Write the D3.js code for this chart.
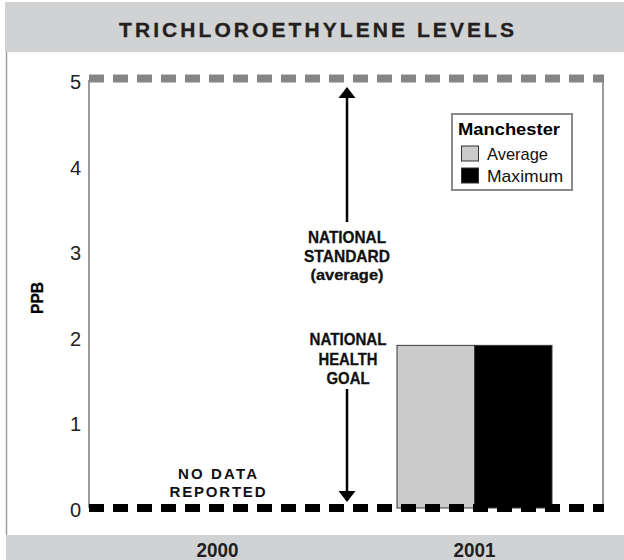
<!DOCTYPE html>
<html>
<head>
<meta charset="utf-8">
<script src="https://cdn.jsdelivr.net/npm/d3@7"></script>
<style>
  html, body { margin: 0; padding: 0; background: #fff; }
  svg { display: block; font-family: "Liberation Sans", Arial, sans-serif; }
</style>
</head>
<body>
<svg id="chart" width="624" height="560"></svg>
<script>
// Trichloroethylene levels, parts per billion
const years = ["2000", "2001"];
const seriesNames = ["Average", "Maximum"];
const averageValues = [null, 1.9];
const maximumValues = [null, 1.9];
const yTicks = [0, 1, 2, 3, 4, 5];
const nationalStandard = 5;   // MCL
const nationalGoal = 0;       // MCLG
const seriesColors = ["#cbcbcb", "#000000"];

const svg = d3.select("#chart");
const W = 624, H = 560;
const plot = { left: 89, right: 603, top: 80, bottom: 508 };

// header and footer bands
svg.append("rect").attr("x", 5).attr("y", 2).attr("width", W - 5).attr("height", 50).attr("fill", "#d1d2d4");
svg.append("rect").attr("x", 6).attr("y", 535).attr("width", W - 6).attr("height", 25).attr("fill", "#d1d2d4");
svg.append("line").attr("x1", 6.5).attr("x2", 6.5).attr("y1", 52).attr("y2", 535)
  .attr("stroke", "#a0a0a0").attr("stroke-width", 1.5);

svg.append("text").attr("x", 119).attr("y", 36.5)
  .attr("font-size", 21).attr("font-weight", "bold")
  .attr("textLength", 395).attr("lengthAdjust", "spacing").attr("fill", "#231f20")
  .attr("stroke", "#231f20").attr("stroke-width", 0.3)
  .text("TRICHLOROETHYLENE LEVELS");

const x = d3.scaleBand().domain(years).range([plot.left, plot.right]).padding(0);
const xs = d3.scaleBand().domain(seriesNames).range([0, x.bandwidth()]).paddingInner(0).paddingOuter(0.658);
const y = d3.scaleLinear().domain([0, 5]).range([plot.bottom, plot.top]);

// y axis (labels only) via d3.axisLeft
const yAxis = svg.append("g").attr("transform", `translate(${plot.left - 8},0)`)
  .call(d3.axisLeft(y).tickValues(yTicks).tickSize(0).tickPadding(0).tickFormat(d3.format("d")));
yAxis.select(".domain").remove();
yAxis.selectAll("text").attr("font-size", 20).attr("fill", "#222")
  .attr("font-family", "Liberation Sans, Arial, sans-serif").attr("dy", "0.42em");

// frame lines
svg.append("line").attr("x1", plot.left).attr("x2", plot.left).attr("y1", y(5)).attr("y2", y(0))
  .attr("stroke", "#9a9a9a").attr("stroke-width", 2);
svg.append("line").attr("x1", plot.right).attr("x2", plot.right).attr("y1", y(5)).attr("y2", y(0))
  .attr("stroke", "#9a9a9a").attr("stroke-width", 2);

// bars
const rows = years.map((yr, i) => ({ year: yr, values: [averageValues[i], maximumValues[i]] }));
rows.forEach(r => {
  r.values.forEach((v, j) => {
    if (v == null) return;
    svg.append("rect")
      .attr("x", x(r.year) + xs(seriesNames[j]))
      .attr("y", y(v))
      .attr("width", xs.bandwidth())
      .attr("height", y(0) - y(v))
      .attr("fill", seriesColors[j])
      .attr("stroke", "#3a3a3a").attr("stroke-width", 1);
  });
});

// reference lines: national standard (grey dashes) and health goal (black dashes)
svg.append("line").attr("x1", plot.left).attr("x2", plot.right + 1)
  .attr("y1", y(nationalStandard) - 1.5).attr("y2", y(nationalStandard) - 1.5)
  .attr("stroke", "#858585").attr("stroke-width", 8).attr("stroke-dasharray", "15 9");
svg.append("line").attr("x1", plot.left).attr("x2", plot.right + 1)
  .attr("y1", y(nationalGoal)).attr("y2", y(nationalGoal))
  .attr("stroke", "#000").attr("stroke-width", 8).attr("stroke-dasharray", "15 9");

// arrows
const ax = 347;
function arrowHead(tipY, dir) {
  const h = 11, w = 8.5;
  svg.append("path")
    .attr("d", `M${ax},${tipY} L${ax - w},${tipY + dir * h} L${ax + w},${tipY + dir * h} Z`)
    .attr("fill", "#000");
}
const topTip = y(nationalStandard) + 7;
svg.append("line").attr("x1", ax).attr("x2", ax).attr("y1", topTip + 8).attr("y2", 222)
  .attr("stroke", "#000").attr("stroke-width", 2.5);
arrowHead(topTip, 1);
const botTip = y(nationalGoal) - 6;
svg.append("line").attr("x1", ax).attr("x2", ax).attr("y1", 389).attr("y2", botTip - 8)
  .attr("stroke", "#000").attr("stroke-width", 2.5);
arrowHead(botTip, -1);

// condensed bold label: fixed width per line
function label(t, cx, base, size, width) {
  svg.append("text").attr("x", cx - width / 2).attr("y", base)
    .attr("font-size", size).attr("font-weight", "bold")
    .attr("textLength", width).attr("lengthAdjust", "spacingAndGlyphs")
    .attr("fill", "#111").attr("stroke", "#111").attr("stroke-width", 0.3).text(t);
}
label("NATIONAL", 347, 243, 16.5, 78);
label("STANDARD", 347, 262, 16.5, 86);
label("(average)", 347, 279.5, 15, 73);
label("NATIONAL", 348, 345, 16.5, 77);
label("HEALTH", 348, 365, 16.5, 59);
label("GOAL", 348, 384, 16.5, 43);

// spaced-out note for the year without data
const cx2000 = x("2000") + x.bandwidth() / 2;
svg.append("text").attr("x", cx2000 - 39.5).attr("y", 478.5)
  .attr("font-size", 15).attr("font-weight", "bold")
  .attr("textLength", 79).attr("lengthAdjust", "spacing").attr("fill", "#111").text("NO DATA");
svg.append("text").attr("x", cx2000 - 48).attr("y", 496.5)
  .attr("font-size", 15).attr("font-weight", "bold")
  .attr("textLength", 96).attr("lengthAdjust", "spacing").attr("fill", "#111").text("REPORTED");

// axis title
svg.append("text").attr("transform", "translate(43,298) rotate(-90)")
  .attr("x", -16).attr("font-size", 17).attr("font-weight", "bold")
  .attr("textLength", 32).attr("lengthAdjust", "spacingAndGlyphs")
  .attr("fill", "#000").attr("stroke", "#000").attr("stroke-width", 0.3).text("PPB");

// year labels in the footer band
const xAxis = svg.append("g").attr("transform", "translate(0,556.5)")
  .call(d3.axisBottom(x).tickSize(0).tickPadding(0));
xAxis.select(".domain").remove();
xAxis.selectAll("text").attr("dy", 0).attr("font-size", 20).attr("font-weight", "bold")
  .attr("fill", "#231f20").attr("font-family", "Liberation Sans, Arial, sans-serif")
  .attr("textLength", 42).attr("lengthAdjust", "spacingAndGlyphs");

// legend
const lg = svg.append("g").attr("transform", "translate(452,114)");
lg.append("rect").attr("width", 120).attr("height", 76).attr("fill", "#fff")
  .attr("stroke", "#8a8a8a").attr("stroke-width", 2);
lg.append("text").attr("x", 6).attr("y", 21).attr("font-size", 17).attr("font-weight", "bold")
  .attr("textLength", 102).attr("lengthAdjust", "spacingAndGlyphs")
  .attr("fill", "#000").text("Manchester");
const legendWidths = [61, 76];
seriesNames.forEach((s, i) => {
  lg.append("rect").attr("x", 9.5).attr("y", 32 + i * 22).attr("width", 17).attr("height", 15)
    .attr("fill", seriesColors[i]).attr("stroke", "#333").attr("stroke-width", 1);
  lg.append("text").attr("x", 35).attr("y", 46 + i * 22).attr("font-size", 17)
    .attr("textLength", legendWidths[i]).attr("lengthAdjust", "spacingAndGlyphs")
    .attr("fill", "#111").text(s);
});
</script>
</body>
</html>
